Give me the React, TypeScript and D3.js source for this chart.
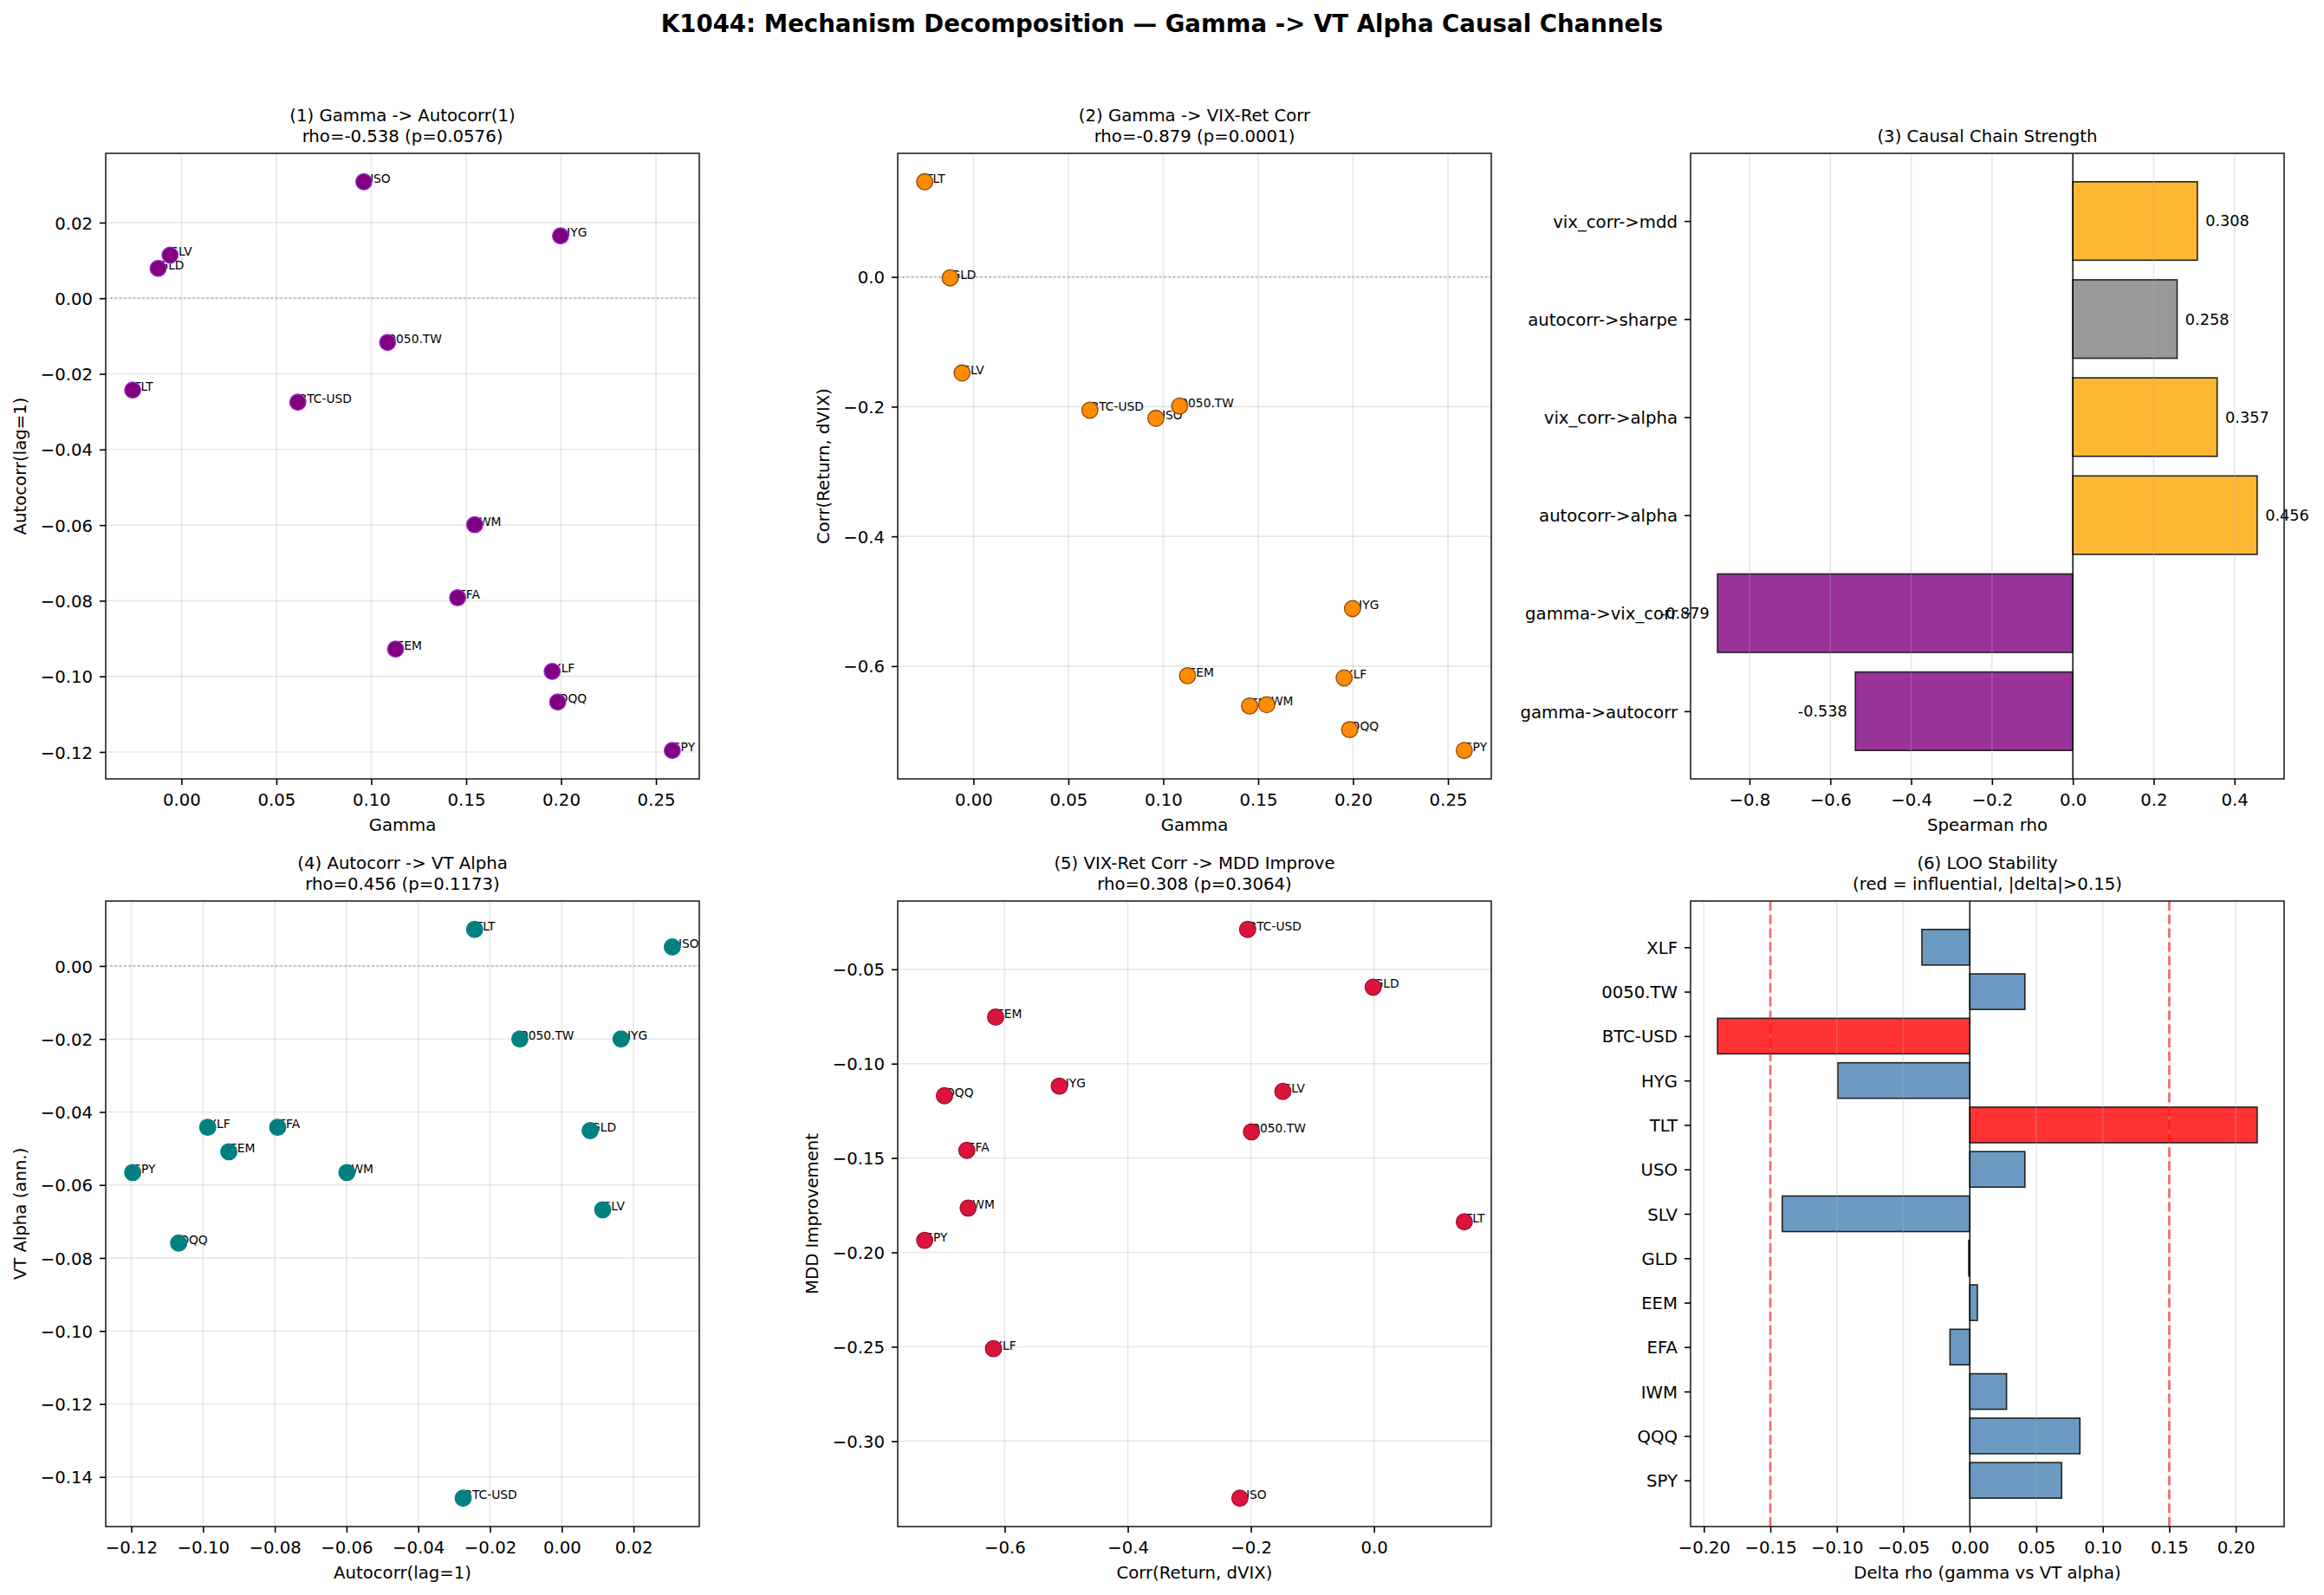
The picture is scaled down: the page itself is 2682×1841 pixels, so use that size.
import React, { useEffect, useRef } from 'react';
import * as d3 from 'd3';

// per-ticker metrics (same order everywhere)
const tickers = ['SPY', 'QQQ', 'IWM', 'EFA', 'EEM', 'GLD', 'SLV', 'USO', 'TLT', 'HYG', 'BTC-USD', '0050.TW', 'XLF'];
const gamma = [0.2586, 0.1982, 0.1545, 0.1455, 0.1128, -0.0123, -0.0060, 0.0961, -0.0257, 0.1997, 0.0613, 0.1086, 0.1953];
const autocorr = [-0.1196, -0.1068, -0.0599, -0.0792, -0.0928, 0.0079, 0.0114, 0.0308, -0.0243, 0.0165, -0.0275, -0.0117, -0.0987];
const vixCorr = [-0.7300, -0.6979, -0.6594, -0.6615, -0.6147, -0.0014, -0.1481, -0.2179, 0.1467, -0.5113, -0.2054, -0.1991, -0.6182];
const vtAlpha = [-0.0566, -0.0759, -0.0566, -0.0442, -0.0509, -0.0451, -0.0668, 0.0052, 0.0100, -0.0200, -0.1458, -0.0200, -0.0442];
const mddImprove = [-0.1936, -0.1170, -0.1765, -0.1459, -0.0753, -0.0595, -0.1147, -0.3302, -0.1838, -0.1119, -0.0289, -0.1361, -0.2510];
const looDelta = [0.0690, 0.0828, 0.0276, -0.0149, 0.0057, -0.0008, -0.1410, 0.0414, 0.2161, -0.0992, -0.1897, 0.0414, -0.0360];

// causal chain links (bottom to top)
const chainLinks = ['gamma->autocorr', 'gamma->vix_corr', 'autocorr->alpha', 'vix_corr->alpha', 'autocorr->sharpe', 'vix_corr->mdd'];
const chainRho = [-0.538, -0.879, 0.456, 0.357, 0.258, 0.308];

// tick values
const gammaTicks = [0, 0.05, 0.1, 0.15, 0.2, 0.25];
const autocorrTicks = [-0.12, -0.1, -0.08, -0.06, -0.04, -0.02, 0, 0.02];
const vixTicks = [-0.6, -0.4, -0.2, 0];
const alphaTicks = [-0.14, -0.12, -0.1, -0.08, -0.06, -0.04, -0.02, 0];
const mddTicks = [-0.3, -0.25, -0.2, -0.15, -0.1, -0.05];
const rhoTicks = [-0.8, -0.6, -0.4, -0.2, 0, 0.2, 0.4];
const deltaTicks = [-0.2, -0.15, -0.1, -0.05, 0, 0.05, 0.1, 0.15, 0.2];

const W = 2682;
const H = 1841;
const FONT = "'DejaVu Sans', sans-serif";
const FS = 19.7;
const PW = 685;
const PH = 722;
const colX = [122, 1036, 1951];
const rowY = [177, 1040];

type G = d3.Selection<SVGGElement, unknown, null, undefined>;

const fmt = (n: number) => (d: number) => (d < -1e-12 ? '\u2212' : '') + Math.abs(d).toFixed(n);

const padExtent = (vals: number[]): [number, number] => {
    const [a, b] = d3.extent(vals) as [number, number];
    const m = (b - a) * 0.05;
    return [a - m, b + m];
};

function titleLines(g: G, lines: string[]) {
    lines.forEach((t, i) => {
        g.append('text')
            .attr('x', PW / 2)
            .attr('y', -13 - (lines.length - 1 - i) * 24)
            .attr('text-anchor', 'middle')
            .style('font-size', `${FS}px`)
            .text(t);
    });
}

function xAxis(g: G, x: d3.ScaleLinear<number, number>, ticks: number[], f: (d: number) => string, label: string) {
    const ax = g.append('g')
        .attr('transform', `translate(0,${PH})`)
        .call(d3.axisBottom(x).tickValues(ticks).tickFormat(f as any).tickSize(7).tickPadding(10).tickSizeOuter(0));
    ax.select('.domain').remove();
    ax.attr('font-size', FS).attr('font-family', FONT).attr('color', '#000');
    ax.selectAll('line').attr('stroke-width', 1.6);
    g.append('text')
        .attr('x', PW / 2)
        .attr('y', PH + 60)
        .attr('text-anchor', 'middle')
        .style('font-size', `${FS}px`)
        .text(label);
}

function yAxis(g: G, y: d3.ScaleLinear<number, number>, ticks: number[], f: (d: number) => string) {
    const ax = g.append('g')
        .call(d3.axisLeft(y).tickValues(ticks).tickFormat(f as any).tickSize(7).tickPadding(8).tickSizeOuter(0));
    ax.select('.domain').remove();
    ax.attr('font-size', FS).attr('font-family', FONT).attr('color', '#000');
    ax.selectAll('text').attr('dy', '0.36em');
    ax.selectAll('line').attr('stroke-width', 1.6);
}

function frame(g: G) {
    g.append('rect')
        .attr('width', PW)
        .attr('height', PH)
        .attr('fill', 'none')
        .attr('stroke', '#222')
        .attr('stroke-width', 1.6);
}

interface ScatterOpts {
    col: number;
    row: number;
    xs: number[];
    ys: number[];
    xTicks: number[];
    yTicks: number[];
    xFmt: (d: number) => string;
    yFmt: (d: number) => string;
    title: string[];
    xLabel: string;
    yLabel: string;
    yLabelOffset: number;
    fill: string;
    edge: string;
    zeroLine: boolean;
}

function scatterPanel(svg: d3.Selection<SVGSVGElement, unknown, null, undefined>, o: ScatterOpts) {
    const g = svg.append('g').attr('transform', `translate(${colX[o.col]},${rowY[o.row]})`) as unknown as G;
    const x = d3.scaleLinear().domain(padExtent(o.xs)).range([0, PW]);
    const y = d3.scaleLinear().domain(padExtent(o.ys)).range([PH, 0]);

    // grid
    g.selectAll('line.gx').data(o.xTicks).enter().append('line')
        .attr('x1', d => x(d)).attr('x2', d => x(d)).attr('y1', 0).attr('y2', PH)
        .attr('stroke', '#b0b0b0').attr('stroke-opacity', 0.3).attr('stroke-width', 1.6);
    g.selectAll('line.gy').data(o.yTicks).enter().append('line')
        .attr('y1', d => y(d)).attr('y2', d => y(d)).attr('x1', 0).attr('x2', PW)
        .attr('stroke', '#b0b0b0').attr('stroke-opacity', 0.3).attr('stroke-width', 1.6);

    if (o.zeroLine) {
        g.append('line')
            .attr('x1', 0).attr('x2', PW).attr('y1', y(0)).attr('y2', y(0))
            .attr('stroke', 'gray').attr('stroke-opacity', 0.5)
            .attr('stroke-width', 2).attr('stroke-dasharray', '2,3.3');
    }

    // ticker labels sit under the markers
    g.selectAll('text.lbl').data(tickers).enter().append('text')
        .attr('x', (_, i) => x(o.xs[i]) + 1)
        .attr('y', (_, i) => y(o.ys[i]) + 1)
        .style('font-size', '13.8px')
        .text(d => d);

    g.selectAll('circle').data(tickers).enter().append('circle')
        .attr('cx', (_, i) => x(o.xs[i]))
        .attr('cy', (_, i) => y(o.ys[i]))
        .attr('r', 9.3)
        .attr('fill', o.fill)
        .attr('stroke', o.edge)
        .attr('stroke-width', 1.3);

    frame(g);
    xAxis(g, x, o.xTicks, o.xFmt, o.xLabel);
    yAxis(g, y, o.yTicks, o.yFmt);
    titleLines(g, o.title);

    g.append('text')
        .attr('transform', `translate(${-o.yLabelOffset},${PH / 2}) rotate(-90)`)
        .attr('text-anchor', 'middle')
        .attr('dy', '0.36em')
        .style('font-size', `${FS}px`)
        .text(o.yLabel);
}

interface BarOpts {
    col: number;
    row: number;
    cats: string[];
    vals: number[];
    colors: string[];
    xTicks: number[];
    xFmt: (d: number) => string;
    title: string[];
    xLabel: string;
    valueLabels: boolean;
    thresholds: number[];
}

function barPanel(svg: d3.Selection<SVGSVGElement, unknown, null, undefined>, o: BarOpts) {
    const g = svg.append('g').attr('transform', `translate(${colX[o.col]},${rowY[o.row]})`) as unknown as G;
    const n = o.cats.length;
    const x = d3.scaleLinear().domain(padExtent([...o.vals, 0])).range([0, PW]);
    const yPad = (n - 1 + 0.8) * 0.05;
    const y = d3.scaleLinear().domain([-0.4 - yPad, n - 1 + 0.4 + yPad]).range([PH, 0]);
    const bh = y(0) - y(0.8);

    g.selectAll('rect.bar').data(o.vals).enter().append('rect')
        .attr('x', d => x(Math.min(0, d)))
        .attr('width', d => Math.abs(x(d) - x(0)))
        .attr('y', (_, i) => y(i + 0.4))
        .attr('height', bh)
        .attr('fill', (_, i) => o.colors[i])
        .attr('fill-opacity', 0.8)
        .attr('stroke', '#222')
        .attr('stroke-width', 1.6);

    // vertical grid drawn over the bars
    g.selectAll('line.gx').data(o.xTicks).enter().append('line')
        .attr('x1', d => x(d)).attr('x2', d => x(d)).attr('y1', 0).attr('y2', PH)
        .attr('stroke', '#b0b0b0').attr('stroke-opacity', 0.3).attr('stroke-width', 1.6);

    g.append('line')
        .attr('x1', x(0)).attr('x2', x(0)).attr('y1', 0).attr('y2', PH)
        .attr('stroke', '#000').attr('stroke-width', 1.4);

    o.thresholds.forEach(t => {
        g.append('line')
            .attr('x1', x(t)).attr('x2', x(t)).attr('y1', 0).attr('y2', PH)
            .attr('stroke', 'red').attr('stroke-opacity', 0.55)
            .attr('stroke-width', 2.8).attr('stroke-dasharray', '11,4.8');
    });

    if (o.valueLabels) {
        g.selectAll('text.val').data(o.vals).enter().append('text')
            .attr('x', d => x(d + (d >= 0 ? 0.02 : -0.02)))
            .attr('y', (_, i) => y(i))
            .attr('dy', '0.36em')
            .attr('text-anchor', d => (d >= 0 ? 'start' : 'end'))
            .style('font-size', '17.7px')
            .text(d => d.toFixed(3));
    }

    frame(g);
    xAxis(g, x, o.xTicks, o.xFmt, o.xLabel);
    yAxis(g, y, d3.range(n), i => o.cats[i]);
    titleLines(g, o.title);
}

const App: React.FC = () => {
    const ref = useRef<SVGSVGElement>(null);

    useEffect(() => {
        const svg = d3.select(ref.current!);
        svg.selectAll('*').remove();

        svg.append('rect').attr('width', W).attr('height', H).attr('fill', '#fff');

        svg.append('text')
            .attr('x', W / 2)
            .attr('y', 37)
            .attr('text-anchor', 'middle')
            .style('font-size', '27.6px')
            .style('font-weight', 'bold')
            .text('K1044: Mechanism Decomposition \u2014 Gamma -> VT Alpha Causal Channels');

        scatterPanel(svg, {
            col: 0, row: 0, xs: gamma, ys: autocorr,
            xTicks: gammaTicks, yTicks: autocorrTicks, xFmt: fmt(2), yFmt: fmt(2),
            title: ['(1) Gamma -> Autocorr(1)', 'rho=-0.538 (p=0.0576)'],
            xLabel: 'Gamma', yLabel: 'Autocorr(lag=1)', yLabelOffset: 99,
            fill: '#800080', edge: '#9b30d0', zeroLine: true,
        });

        scatterPanel(svg, {
            col: 1, row: 0, xs: gamma, ys: vixCorr,
            xTicks: gammaTicks, yTicks: vixTicks, xFmt: fmt(2), yFmt: fmt(1),
            title: ['(2) Gamma -> VIX-Ret Corr', 'rho=-0.879 (p=0.0001)'],
            xLabel: 'Gamma', yLabel: 'Corr(Return, dVIX)', yLabelOffset: 86,
            fill: '#ff8c00', edge: '#8b4a13', zeroLine: true,
        });

        // link colour by strength: |rho|>0.5 purple, >0.3 orange, else gray
        barPanel(svg, {
            col: 2, row: 0, cats: chainLinks, vals: chainRho,
            colors: chainRho.map(r => (Math.abs(r) > 0.5 ? 'purple' : Math.abs(r) > 0.3 ? 'orange' : 'gray')),
            xTicks: rhoTicks, xFmt: fmt(1),
            title: ['(3) Causal Chain Strength'], xLabel: 'Spearman rho',
            valueLabels: true, thresholds: [],
        });

        scatterPanel(svg, {
            col: 0, row: 1, xs: autocorr, ys: vtAlpha,
            xTicks: autocorrTicks, yTicks: alphaTicks, xFmt: fmt(2), yFmt: fmt(2),
            title: ['(4) Autocorr -> VT Alpha', 'rho=0.456 (p=0.1173)'],
            xLabel: 'Autocorr(lag=1)', yLabel: 'VT Alpha (ann.)', yLabelOffset: 99,
            fill: '#008080', edge: '#008080', zeroLine: true,
        });

        scatterPanel(svg, {
            col: 1, row: 1, xs: vixCorr, ys: mddImprove,
            xTicks: vixTicks, yTicks: mddTicks, xFmt: fmt(1), yFmt: fmt(2),
            title: ['(5) VIX-Ret Corr -> MDD Improve', 'rho=0.308 (p=0.3064)'],
            xLabel: 'Corr(Return, dVIX)', yLabel: 'MDD Improvement', yLabelOffset: 99,
            fill: '#dc143c', edge: '#9e0f2a', zeroLine: false,
        });

        barPanel(svg, {
            col: 2, row: 1, cats: tickers, vals: looDelta,
            colors: looDelta.map(d => (Math.abs(d) > 0.15 ? 'red' : 'steelblue')),
            xTicks: deltaTicks, xFmt: fmt(2),
            title: ['(6) LOO Stability', '(red = influential, |delta|>0.15)'],
            xLabel: 'Delta rho (gamma vs VT alpha)',
            valueLabels: false, thresholds: [-0.15, 0.15],
        });
    }, []);

    return (
        <svg
            ref={ref}
            width={W}
            height={H}
            style={{ position: 'absolute', left: 0, top: 0, fontFamily: FONT }}
        />
    );
};

export default App;
